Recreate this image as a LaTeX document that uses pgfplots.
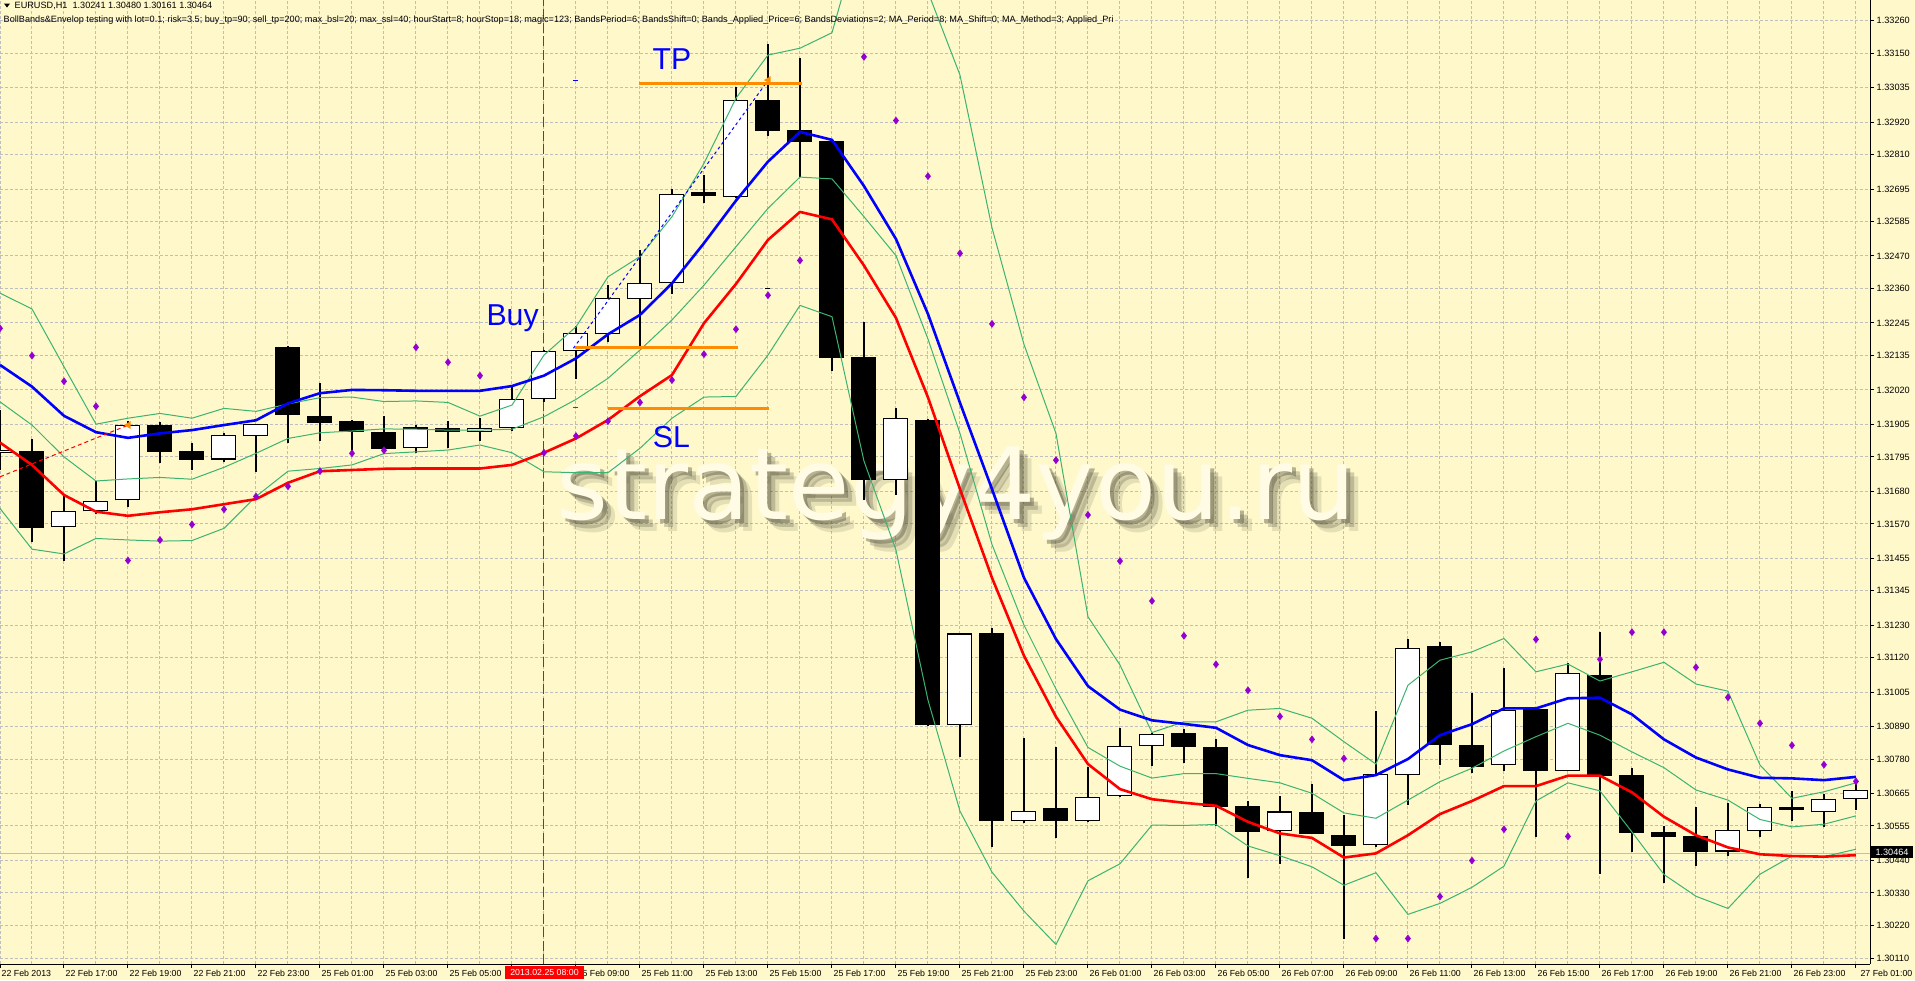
\documentclass[border=0pt]{standalone}
\usepackage{fontspec}
\setmainfont{Liberation Sans}
\newfontfamily\wmfont{DejaVu Sans}
\usepackage{pgfplots}
\usepackage{pgfplotstable}
\pgfplotsset{compat=1.18}
\definecolor{bg}{HTML}{FFF8CA}
\definecolor{gridc}{HTML}{BEBEBE}
\definecolor{bbgreen}{HTML}{3CB371}
\definecolor{sarc}{HTML}{9400D3}
\definecolor{tpc}{HTML}{FF8C00}
\definecolor{lblue}{HTML}{0000FF}
\definecolor{shade}{HTML}{4A4A38}

% hourly candles, index 0 = 22 Feb 15:00
\pgfplotstableread{
i o h l c
0 1.31808 1.31953 1.31751 1.31818
1 1.31815 1.31855 1.31508 1.31557
2 1.31558 1.31665 1.31446 1.31612
3 1.31612 1.31714 1.31602 1.31646
4 1.31649 1.31916 1.31627 1.31902
5 1.31902 1.31911 1.31775 1.31813
6 1.31815 1.31842 1.31750 1.31786
7 1.31786 1.31876 1.31778 1.31868
8 1.31866 1.31906 1.31745 1.31905
9 1.32164 1.32166 1.31843 1.31937
10 1.31932 1.32043 1.31848 1.31910
11 1.31916 1.31920 1.31807 1.31880
12 1.31879 1.31932 1.31807 1.31823
13 1.31824 1.31902 1.31809 1.31894
14 1.31893 1.31916 1.31826 1.31878
15 1.31878 1.31925 1.31848 1.31891
16 1.31891 1.32031 1.31882 1.31989
17 1.31989 1.32154 1.31980 1.32150
18 1.32151 1.32235 1.32058 1.32210
19 1.32207 1.32373 1.32182 1.32328
20 1.32324 1.32490 1.32165 1.32378
21 1.32378 1.32694 1.32342 1.32677
22 1.32684 1.32742 1.32647 1.32671
23 1.32667 1.33039 1.32665 1.32993
24 1.32993 1.33181 1.32873 1.32891
25 1.32893 1.33134 1.32736 1.32852
26 1.32856 1.32858 1.32085 1.32128
27 1.32130 1.32248 1.31650 1.31717
28 1.31717 1.31958 1.31667 1.31926
29 1.31919 1.31921 1.30892 1.30894
30 1.30894 1.31204 1.30786 1.31202
31 1.31202 1.31221 1.30484 1.30571
32 1.30571 1.30851 1.30564 1.30605
33 1.30614 1.30820 1.30515 1.30571
34 1.30571 1.30754 1.30569 1.30652
35 1.30655 1.30883 1.30653 1.30823
36 1.30823 1.30866 1.30758 1.30863
37 1.30866 1.30880 1.30768 1.30821
38 1.30820 1.30847 1.30556 1.30620
39 1.30621 1.30639 1.30381 1.30536
40 1.30537 1.30657 1.30427 1.30604
41 1.30602 1.30697 1.30527 1.30529
42 1.30524 1.30592 1.30175 1.30489
43 1.30490 1.30942 1.30485 1.30729
44 1.30725 1.31183 1.30627 1.31152
45 1.31160 1.31172 1.30761 1.30828
46 1.30827 1.31002 1.30734 1.30754
47 1.30759 1.31086 1.30740 1.30944
48 1.30948 1.30950 1.30518 1.30741
49 1.30741 1.31102 1.30739 1.31069
50 1.31061 1.31207 1.30394 1.30724
51 1.30726 1.30749 1.30468 1.30533
52 1.30535 1.30555 1.30365 1.30519
53 1.30521 1.30619 1.30421 1.30468
54 1.30469 1.30633 1.30454 1.30542
55 1.30537 1.30629 1.30518 1.30618
56 1.30619 1.30673 1.30572 1.30610
57 1.30601 1.30662 1.30553 1.30645
58 1.30645 1.30700 1.30609 1.30675
}\ohlc

% envelope (blue/red), bollinger (g1 g2 g3), purple points
\pgfplotstableread{
i blue red g1 g2 g3 sar
0 1.32104 1.31843 1.32345 1.31980 1.31622 1.32227
1 1.32031 1.31768 1.32292 1.31902 1.31485 1.32135
2 1.31933 1.31667 1.32098 1.31795 1.31469 1.32049
3 1.31878 1.31611 1.31905 1.31714 1.31521 1.31965
4 1.31859 1.31597 1.31925 1.31721 1.31516 1.31447
5 1.31874 1.31609 1.31941 1.31726 1.31512 1.31516
6 1.31885 1.31619 1.31925 1.31720 1.31514 1.31568
7 1.31902 1.31636 1.31958 1.31760 1.31555 1.31619
8 1.31918 1.31653 1.31948 1.31807 1.31662 1.31662
9 1.31975 1.31708 1.31973 1.31857 1.31747 1.31696
10 1.32009 1.31747 1.31994 1.31876 1.31756 1.31747
11 1.32020 1.31751 1.31996 1.31882 1.31768 1.31807
12 1.32019 1.31755 1.31981 1.31889 1.31806 1.31817
13 1.32017 1.31756 1.31983 1.31888 1.31812 1.32163
14 1.32017 1.31756 1.31978 1.31885 1.31818 1.32113
15 1.32017 1.31756 1.31932 1.31885 1.31835 1.32068
16 1.32033 1.31768 1.31969 1.31888 1.31809 nan
17 1.32068 1.31809 1.32137 1.31930 1.31745 1.31809
18 1.32126 1.31857 1.32232 1.31988 1.31742 1.31865
19 1.32207 1.31919 1.32400 1.32059 1.31742 1.31915
20 1.32272 1.31999 1.32468 1.32154 1.31824 1.31978
21 1.32378 1.32070 1.32602 1.32255 1.31925 1.32053
22 1.32513 1.32244 1.32781 1.32372 1.31996 1.32140
23 1.32656 1.32376 1.33000 1.32501 1.31998 1.32224
24 1.32787 1.32524 1.33145 1.32630 1.32137 1.32338
25 1.32887 1.32618 1.33168 1.32735 1.32304 1.32455
26 1.32860 1.32593 1.33220 1.32729 1.32266 nan
27 1.32705 1.32438 1.33600 1.32602 1.31781 1.33139
28 1.32527 1.32262 1.33560 1.32471 1.31482 1.32925
29 1.32275 1.31995 1.33357 1.32191 1.30978 1.32738
30 1.31977 1.31687 1.33078 1.31874 1.30605 1.32479
31 1.31687 1.31389 1.32565 1.31501 1.30400 1.32242
32 1.31389 1.31127 1.32173 1.31230 1.30269 1.31995
33 1.31183 1.30922 1.31874 1.31015 1.30157 1.31784
34 1.31025 1.30763 1.31258 1.30819 1.30371 1.31600
35 1.30946 1.30679 1.31096 1.30756 1.30428 1.31445
36 1.30910 1.30645 1.30869 1.30716 1.30558 1.31311
37 1.30898 1.30633 1.30905 1.30731 1.30557 1.31194
38 1.30885 1.30623 1.30905 1.30731 1.30560 1.31098
39 1.30827 1.30569 1.30944 1.30715 1.30488 1.31011
40 1.30793 1.30530 1.30950 1.30700 1.30455 1.30923
41 1.30776 1.30515 1.30917 1.30665 1.30418 1.30846
42 1.30709 1.30449 1.30838 1.30599 1.30356 1.30782
43 1.30726 1.30463 1.30763 1.30581 1.30398 1.30177
44 1.30780 1.30524 1.31028 1.30642 1.30258 1.30177
45 1.30860 1.30595 1.31112 1.30704 1.30295 1.30318
46 1.30897 1.30639 1.31140 1.30749 1.30349 1.30439
47 1.30950 1.30689 1.31185 1.30807 1.30420 1.30544
48 1.30950 1.30689 1.31073 1.30855 1.30639 1.31182
49 1.30984 1.30724 1.31099 1.30900 1.30700 1.30520
50 1.30986 1.30724 1.31042 1.30860 1.30673 1.31115
51 1.30930 1.30668 1.31073 1.30804 1.30535 1.31206
52 1.30846 1.30586 1.31105 1.30751 1.30392 1.31206
53 1.30785 1.30524 1.31032 1.30676 1.30319 1.31088
54 1.30745 1.30483 1.31008 1.30642 1.30278 1.30987
55 1.30717 1.30460 1.30760 1.30577 1.30393 1.30900
56 1.30715 1.30454 1.30648 1.30552 1.30454 1.30826
57 1.30709 1.30452 1.30670 1.30561 1.30452 1.30761
58 1.30720 1.30457 1.30700 1.30589 1.30477 1.30705
}\ind

\begin{document}
\begin{tikzpicture}
\fill[bg] (0,-0.16) rectangle (19.15,9.64);
\begin{axis}[
  at={(0,0)}, anchor=south west,
  width=18.70cm, height=9.64cm, scale only axis,
  xmin=0, xmax=58.44, ymin=1.300913, ymax=1.33330,
  axis x line*=bottom, axis y line*=right,
  axis line style={black, line width=0.1mm, -},
  tick align=outside, major tick length=0.35mm, minor tick length=0pt,
  tick style={black, line width=0.1mm},
  xtick={0,2,...,58}, minor x tick num=1,
  xticklabels={22 Feb 2013,22 Feb 17:00,22 Feb 19:00,22 Feb 21:00,22 Feb 23:00,25 Feb 01:00,25 Feb 03:00,25 Feb 05:00,25 Feb 07:00,25 Feb 09:00,25 Feb 11:00,25 Feb 13:00,25 Feb 15:00,25 Feb 17:00,25 Feb 19:00,25 Feb 21:00,25 Feb 23:00,26 Feb 01:00,26 Feb 03:00,26 Feb 05:00,26 Feb 07:00,26 Feb 09:00,26 Feb 11:00,26 Feb 13:00,26 Feb 15:00,26 Feb 17:00,26 Feb 19:00,26 Feb 21:00,26 Feb 23:00,{}},
  ytick={1.30110,1.30220,1.30330,1.30440,1.30555,1.30665,1.30780,1.30890,1.31005,1.31120,1.31230,1.31345,1.31455,1.31570,1.31680,1.31795,1.31905,1.32020,1.32135,1.32245,1.32360,1.32470,1.32585,1.32695,1.32810,1.32920,1.33035,1.33150,1.33260},
  yticklabels={1.30110,1.30220,1.30330,1.30440,1.30555,1.30665,1.30780,1.30890,1.31005,1.31120,1.31230,1.31345,1.31455,1.31570,1.31680,1.31795,1.31905,1.32020,1.32135,1.32245,1.32360,1.32470,1.32585,1.32695,1.32810,1.32920,1.33035,1.33150,1.33260},
  ticklabel style={font=\fontsize{2.6}{3}\selectfont},
  xticklabel style={anchor=north west, inner xsep=0.1mm, inner ysep=0.2mm, font=\fontsize{2.5}{3}\selectfont},
  yticklabel style={anchor=west, inner xsep=0.25mm},
  xmajorgrids, xminorgrids, ymajorgrids,
  grid style={gridc, line width=0.1mm, dash pattern=on 0.3mm off 0.2mm},
  minor grid style={gridc, line width=0.1mm, dash pattern=on 0.3mm off 0.2mm},
  unbounded coords=jump,
]
% watermark with a soft shadow, behind the candles
\node[font=\wmfont\fontsize{28.4}{30}\selectfont, text=shade, text opacity=0.14, anchor=base] at ([shift={(1.2mm,-1.2mm)}]axis cs:29.87,1.31586) {strategy4you.ru};
\node[font=\wmfont\fontsize{28.4}{30}\selectfont, text=shade, text opacity=0.25, anchor=base] at ([shift={(0.8mm,-0.8mm)}]axis cs:29.87,1.31586) {strategy4you.ru};
\node[font=\wmfont\fontsize{28.4}{30}\selectfont, text=shade, text opacity=0.40, anchor=base] at ([shift={(0.4mm,-0.4mm)}]axis cs:29.87,1.31586) {strategy4you.ru};
\node[font=\wmfont\fontsize{28.4}{30}\selectfont, text=bg!50!white, anchor=base] at (axis cs:29.87,1.31586) {strategy4you.ru};

% bid line and entry bar
\addplot[gridc, line width=0.1mm] coordinates {(0,1.30464)(58.44,1.30464)};
\addplot[red, line width=0.1mm, dash pattern=on 1mm off 0.35mm] coordinates {(17,1.300913)(17,1.33330)};

% candles: wicks, bodies, white fill for rising bars
\addplot[draw=none, mark=none, forget plot, error bars/.cd, y dir=plus, y explicit, error mark=none,
  error bar style={draw=black, line width=0.11mm}]
  table[x=i, y=l, y error expr=\thisrow{h}-\thisrow{l}] {\ohlc};
\addplot[draw=none, mark=none, forget plot, error bars/.cd, y dir=plus, y explicit, error mark=none,
  error bar style={draw=black, line width=2.5mm}]
  table[x=i, y expr={min(\thisrow{o},\thisrow{c})}, y error expr={abs(\thisrow{c}-\thisrow{o})}] {\ohlc};
\addplot[draw=none, mark=none, forget plot, unbounded coords=discard, error bars/.cd, y dir=plus, y explicit, error mark=none,
  error bar style={draw=white, line width=2.3mm, shorten <=0.11mm, shorten >=0.11mm}]
  table[x=i, y expr={\thisrow{c}>\thisrow{o} ? \thisrow{o} : nan}, y error expr={abs(\thisrow{c}-\thisrow{o})}] {\ohlc};

% indicators
\addplot[bbgreen, line width=0.1mm] table[x=i, y=g1] {\ind};
\addplot[bbgreen, line width=0.1mm] table[x=i, y=g2] {\ind};
\addplot[bbgreen, line width=0.1mm] table[x=i, y=g3] {\ind};
\addplot[lblue, line width=0.26mm] table[x=i, y=blue] {\ind};
\addplot[red, line width=0.26mm] table[x=i, y=red] {\ind};
\addplot[only marks, mark=diamond*, mark size=0.28mm, sarc] table[x=i, y=sar] {\ind};

% trade lines and levels
\addplot[red, line width=0.1mm, dash pattern=on 0.4mm off 0.3mm] coordinates {(0,1.31728)(4.01,1.31902)};
\addplot[lblue, line width=0.1mm, dash pattern=on 0.3mm off 0.3mm] coordinates {(17.92,1.32160)(24.01,1.33061)};
\addplot[tpc, line width=0.3mm] coordinates {(19.98,1.33050)(25.05,1.33050)};
\addplot[tpc, line width=0.3mm] coordinates {(17.97,1.32163)(23.05,1.32163)};
\addplot[tpc, line width=0.3mm] coordinates {(18.99,1.31958)(24.04,1.31958)};
\addplot[only marks, mark=-, mark size=0.25mm, lblue, line width=0.1mm] coordinates {(18,1.33061)};
\addplot[only marks, mark=-, mark size=0.25mm, red, line width=0.1mm] coordinates {(18,1.31961)};
\addplot[only marks, mark=-, mark size=0.25mm, black, line width=0.1mm] coordinates {(24,1.32361)};
\addplot[only marks, mark=triangle*, mark size=0.3mm, tpc, mark options={rotate=90}] coordinates {(4.01,1.31902)(24.01,1.33061)};

\node[text=lblue, font=\fontsize{8.6}{10}\selectfont, anchor=base, inner sep=0] at (axis cs:21.0,1.33095) {TP};
\node[text=lblue, font=\fontsize{8.6}{10}\selectfont, anchor=base, inner sep=0] at (axis cs:16.02,1.32238) {Buy};
\node[text=lblue, font=\fontsize{8.6}{10}\selectfont, anchor=base, inner sep=0] at (axis cs:20.98,1.31827) {SL};
\end{axis}
% header
\fill[black] (0.04,9.605) -- (0.10,9.605) -- (0.07,9.565) -- cycle;
\node[anchor=west, inner sep=0, font=\fontsize{2.6}{3}\selectfont] at (0.14,9.585) {EURUSD,H1\ \ 1.30241 1.30480 1.30161 1.30464};
\node[anchor=west, inner sep=0, font=\fontsize{2.6}{3}\selectfont] at (0.03,9.44) {BollBands\&Envelop testing with lot=0.1; risk=3.5; buy\_tp=90; sell\_tp=200; max\_bsl=20; max\_ssl=40; hourStart=8; hourStop=18; magic=123; BandsPeriod=6; BandsShift=0; Bands\_Applied\_Price=6; BandsDeviations=2; MA\_Period=8; MA\_Shift=0; MA\_Method=3; Applied\_Pri};
% last time label, kept inside the right edge
\node[anchor=north east, inner xsep=0.1mm, inner ysep=0.2mm, font=\fontsize{2.5}{3}\selectfont] at (19.14,-0.035) {27 Feb 01:00};
% time and price labels
\node[fill=red, text=white, inner sep=0, minimum width=0.79cm, minimum height=0.13cm, font=\fontsize{2.5}{3}\selectfont] at (5.445,-0.085) {2013.02.25 08:00};
\node[fill=black, text=white, inner sep=0, minimum width=0.42cm, minimum height=0.12cm, font=\fontsize{2.6}{3}\selectfont] at (18.92,1.12) {1.30464};
\pgfresetboundingbox
\path (0,-0.16) rectangle (19.15,9.64);
\end{tikzpicture}
\end{document}
